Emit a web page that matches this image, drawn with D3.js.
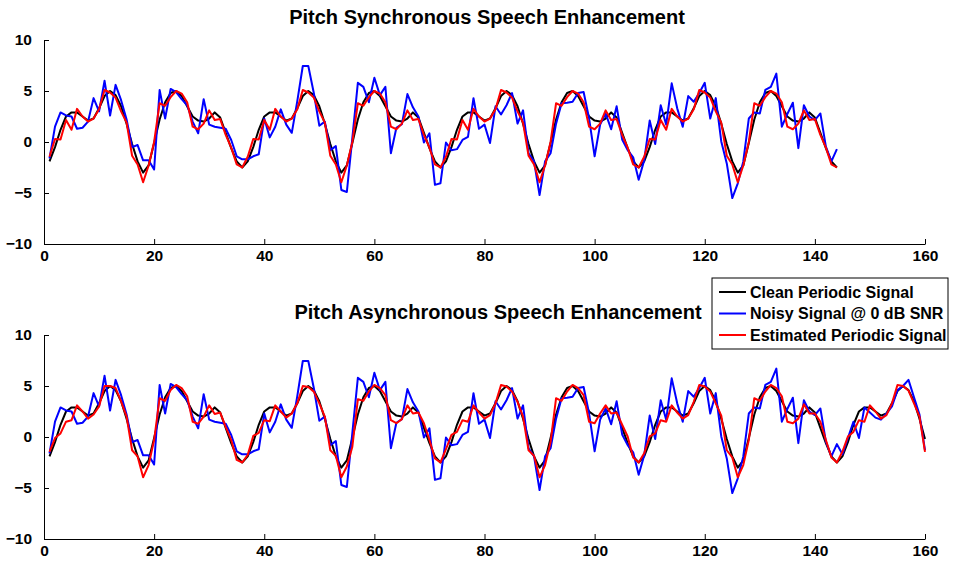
<!DOCTYPE html>
<html>
<head>
<meta charset="utf-8">
<script src="https://cdn.jsdelivr.net/npm/d3@7/dist/d3.min.js"></script>
<style>
  html, body { margin: 0; padding: 0; background: #fff; }
  svg text { font-family: "Liberation Sans", Arial, Helvetica, sans-serif; font-weight: bold; }
</style>
</head>
<body>
<svg id="chart" width="976" height="567"></svg>
<script>
// Clean periodic signal (samples 1..160)
const cleanSignal = [
  -1.9,-0.5,1.2,2.5,2.9,2.9,2.5,2.1,2.3,3.3,4.5,5.0,4.6,3.5,1.8,-0.2,-1.9,-3.0,-2.3,-0.1,2.2,3.9,4.8,5.0,4.5,3.5,2.5,2.1,2.0,2.3,2.9,2.4,0.9,-0.6,-1.9,-2.5,
  -1.9,-0.5,1.2,2.5,2.9,2.9,2.5,2.1,2.3,3.3,4.5,5.0,4.6,3.5,1.8,-0.2,-1.9,-3.0,-2.3,-0.1,2.2,3.9,4.8,5.0,4.5,3.5,2.5,2.1,2.0,2.3,2.9,2.4,0.9,-0.6,-1.9,-2.5,
  -1.9,-0.5,1.2,2.5,2.9,2.9,2.5,2.1,2.3,3.3,4.5,5.0,4.6,3.5,1.8,-0.2,-1.9,-3.0,-2.3,-0.1,2.2,3.9,4.8,5.0,4.5,3.5,2.5,2.1,2.0,2.3,2.9,2.4,0.9,-0.6,-1.9,-2.5,
  -1.9,-0.5,1.2,2.5,2.9,2.9,2.5,2.1,2.3,3.3,4.5,5.0,4.6,3.5,1.8,-0.2,-1.9,-3.0,-2.3,-0.1,2.2,3.9,4.8,5.0,4.5,3.5,2.5,2.1,2.0,2.3,2.9,2.4,0.9,-0.6,-1.9,-2.5,
  -1.9,-0.5,1.2,2.5,2.9,2.9,2.5,2.1,2.3,3.3,4.5,5.0,4.6,3.5,1.8,-0.2
];

// Noisy observation at 0 dB SNR (samples 1..160)
const noisySignal = [
  -1.6,1.5,2.9,2.6,2.5,1.3,1.4,2.0,4.3,3.0,6.0,2.6,5.6,4.1,2.2,-0.5,-0.3,-1.8,-1.8,-2.7,
  5.1,2.3,5.2,4.9,4.2,3.6,2.0,0.85,4.2,1.7,1.5,1.4,1.3,0.2,-1.4,-1.7,-1.7,-1.4,-1.2,2.3,
  0.45,1.5,3.2,1.7,0.9,4.0,7.45,7.45,4.8,1.6,2.0,-0.8,-0.4,-4.7,-4.9,0.4,5.8,5.4,3.9,6.3,
  4.6,5.4,-1.1,1.4,1.75,4.7,3.4,2.5,-0.05,0.85,-4.2,-4.05,-0.05,-0.8,-0.7,0.2,0.5,4.3,1.3,1.7,
  -0.1,3.5,2.7,3.6,4.8,1.8,3.1,-1.1,-1.9,-5.2,-1.9,-1.1,1.8,3.8,3.85,3.95,4.8,4.9,2.3,-1.4,
  1.7,2.8,1.25,3.5,0.25,-0.8,-1.5,-3.7,-1.8,2.1,-0.2,3.6,1.7,5.75,3.3,1.5,4.5,3.95,4.8,5.8,
  2.3,4.3,0.05,-2.1,-5.5,-4.05,-1.9,2.3,2.9,2.8,5.1,5.4,6.7,1.5,2.75,3.85,-0.6,3.6,2.5,2.15,
  2.8,-0.45,-1.9,-0.7,-1.7,-0.1,1.5,-0.1,2.9,2.4,1.9,1.7,2.3,3.0,4.6,5.0,5.6,3.9,2.2,-1.3
];

// Pitch-synchronous estimate (samples 1..144)
const syncEstimate = [
  -1.45,0.3,0.25,2.15,1.2,3.25,2.5,2.0,2.3,3.2,5.1,4.85,4.35,3.0,1.9,-1.35,-2.2,-3.95,-2.3,0.0,3.8,3.55,4.4,5.0,4.75,3.9,1.5,1.25,1.8,3.1,2.15,2.25,0.7,-0.55,-2.2,-2.5,
  -1.45,0.3,0.25,2.15,1.2,3.25,2.5,2.0,2.3,3.2,5.1,4.85,4.35,3.0,1.9,-1.35,-2.2,-3.95,-2.3,0.0,3.8,3.55,4.4,5.0,4.75,3.9,1.5,1.25,1.8,3.1,2.15,2.25,0.7,-0.55,-2.2,-2.5,
  -1.45,0.3,0.25,2.15,1.2,3.25,2.5,2.0,2.3,3.2,5.1,4.85,4.35,3.0,1.9,-1.35,-2.2,-3.95,-2.3,0.0,3.8,3.55,4.4,5.0,4.75,3.9,1.5,1.25,1.8,3.1,2.15,2.25,0.7,-0.55,-2.2,-2.5,
  -1.45,0.3,0.25,2.15,1.2,3.25,2.5,2.0,2.3,3.2,5.1,4.85,4.35,3.0,1.9,-1.35,-2.2,-3.95,-2.3,0.0,3.8,3.55,4.4,5.0,4.75,3.9,1.5,1.25,1.8,3.1,2.15,2.25,0.7,-0.55,-2.2,-2.5
];

// Pitch-asynchronous estimate (samples 1..160)
const asyncEstimate = [
  -1.45,-0.1,0.35,1.5,1.65,3.1,2.5,1.8,2.2,3.0,5.0,5.0,4.8,3.5,2.0,-1.3,-1.9,-3.95,-2.75,-0.3,
  3.8,3.55,4.6,5.1,4.8,4.0,1.5,1.3,2.0,3.1,2.25,2.4,1.0,-0.3,-2.25,-2.5,-1.75,0.1,0.4,1.65,
  1.55,3.1,2.5,1.9,2.3,3.3,5.0,4.9,4.45,3.3,2.0,-1.3,-1.85,-3.95,-2.9,-0.95,3.7,3.55,4.45,5.1,
  4.8,4.1,1.65,1.35,1.75,3.1,2.3,2.4,1.35,-0.3,-2.1,-2.5,-1.2,0.2,0.5,1.65,1.5,3.1,2.4,1.8,
  2.15,3.3,5.1,4.95,4.45,3.45,2.0,-1.3,-1.85,-3.95,-2.75,-0.5,3.8,3.55,4.45,5.1,4.8,4.1,1.5,1.35,
  2.3,3.1,2.3,2.4,1.2,0.05,-2.0,-2.5,-1.6,0.05,0.35,1.65,1.5,3.1,2.4,1.8,2.15,3.45,5.1,4.95,
  4.45,3.3,2.1,-1.3,-2.0,-3.95,-2.75,-0.3,3.8,3.55,4.45,5.1,4.8,4.0,1.5,1.35,1.8,3.2,2.3,2.3,
  1.5,-0.3,-2.0,-2.5,-1.45,0.05,0.5,1.65,1.5,3.1,2.5,1.8,2.15,3.3,5.1,5.0,4.55,3.3,2.0,-1.45
];

const xTicks = [0, 20, 40, 60, 80, 100, 120, 140, 160];
const yTicks = [-10, -5, 0, 5, 10];
const panelTitles = ["Pitch Synchronous Speech Enhancement", "Pitch Asynchronous Speech Enhancement"];
const legendLabels = ["Clean Periodic Signal", "Noisy Signal @ 0 dB SNR", "Estimated Periodic Signal"];
const seriesColors = ["#000000", "#0000ff", "#ff0000"];

const svg = d3.select("#chart");
svg.append("rect").attr("width", 976).attr("height", 567).attr("fill", "#fff");

const left = 44, right = 925;
const panels = [
  { top: 40, bottom: 244, title: panelTitles[0], titleX: 487, n: 144, est: syncEstimate },
  { top: 335, bottom: 539, title: panelTitles[1], titleX: 498, n: 160, est: asyncEstimate }
];

const x = d3.scaleLinear().domain([0, 160]).range([left, right]);

panels.forEach(p => {
  const y = d3.scaleLinear().domain([-10, 10]).range([p.bottom, p.top]);
  const g = svg.append("g");

  // axes (left and bottom only, ticks pointing inward)
  const xAxis = d3.axisBottom(x).tickValues(xTicks).tickSize(-5).tickPadding(9).tickSizeOuter(0);
  const yAxis = d3.axisLeft(y).tickValues(yTicks).tickSize(-5).tickPadding(12).tickSizeOuter(0);

  const gx = g.append("g").attr("transform", `translate(0,${p.bottom})`).call(xAxis);
  const gy = g.append("g").attr("transform", `translate(${left},0)`).call(yAxis);
  [gx, gy].forEach(a => {
    a.select(".domain").attr("stroke", "#000").attr("stroke-width", 1);
    a.selectAll(".tick line").attr("stroke", "#000").attr("stroke-width", 1);
    a.selectAll(".tick text").attr("fill", "#000").style("font-size", "15.5px")
      .style("font-family", "'Liberation Sans', Arial, sans-serif").style("font-weight", "bold");
  });
  gx.selectAll(".tick text").attr("dy", "0.5em");

  const line = d3.line().x((d, i) => x(i + 1)).y(d => y(d));
  const series = [cleanSignal.slice(0, p.n), noisySignal.slice(0, p.n), p.est.slice(0, p.n)];
  series.forEach((s, k) => {
    g.append("path").datum(s).attr("d", line)
      .attr("fill", "none").attr("stroke", seriesColors[k])
      .attr("stroke-width", 2).attr("stroke-linejoin", "round");
  });

  g.append("text").attr("x", p.titleX).attr("y", p.top - 16)
    .attr("text-anchor", "middle").style("font-size", "20px").attr("fill", "#000")
    .text(p.title);
});

// legend
const lg = svg.append("g").attr("transform", "translate(712,278)");
lg.append("rect").attr("width", 236).attr("height", 71)
  .attr("fill", "#fff").attr("stroke", "#000").attr("stroke-width", 1);
legendLabels.forEach((t, i) => {
  const cy = 14 + i * 21.5;
  lg.append("line").attr("x1", 7).attr("x2", 34).attr("y1", cy).attr("y2", cy)
    .attr("stroke", seriesColors[i]).attr("stroke-width", 2);
  lg.append("text").attr("x", 38).attr("y", cy).attr("dy", "0.36em")
    .style("font-size", "16px").attr("fill", "#000").text(t);
});
</script>
</body>
</html>
